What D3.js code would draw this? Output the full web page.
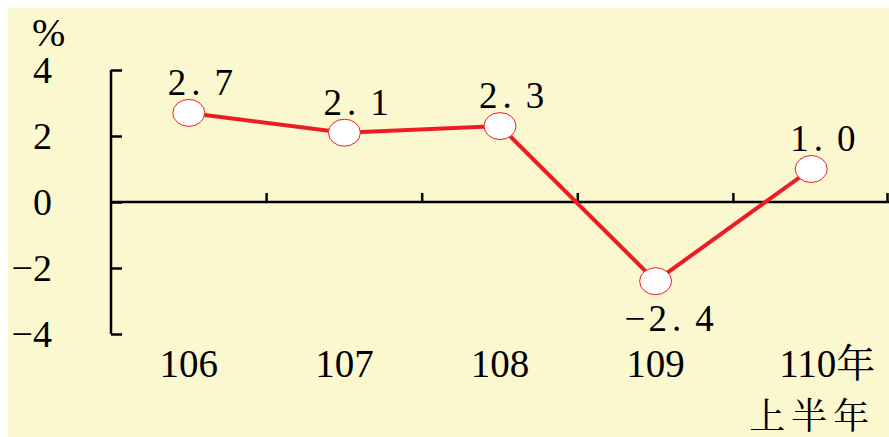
<!DOCTYPE html>
<html>
<head>
<meta charset="utf-8">
<script src="https://cdn.jsdelivr.net/npm/d3@7"></script>
</head>
<body style="margin:0">
<div id="chart"></div>
<script>
const years = ['106', '107', '108', '109', '110年\n上半年'];
const growth = [2.7, 2.1, 2.3, -2.4, 1.0];
const value_labels = ['2.7', '2.1', '2.3', '-2.4', '1.0'];
const y_ticks = [-4, -2, 0, 2, 4];

const width = 889;
const height = 437;

const serif = "'Liberation Serif', 'Noto Serif CJK TC', serif";

const svg = d3.select('#chart').append('svg')
	.attr('width', width)
	.attr('height', height)
	.style('display', 'block');

svg.append('rect')
	.attr('x', 8)
	.attr('y', 8)
	.attr('width', width - 8)
	.attr('height', height - 8)
	.style('fill', '#FBF8D0');

const x = d3.scaleBand()
	.domain(years)
	.range([111, 889]);

const y = d3.scaleLinear()
	.domain([-4, 4])
	.range([334, 70]);

const cx = d => x(d) + x.bandwidth() / 2;

// y axis, ticks pointing inwards, labels far left
const y_axis = svg.append('g')
	.attr('transform', 'translate(111,0)')
	.call(d3.axisLeft(y).tickValues(y_ticks).tickSize(-11).tickSizeOuter(0).tickPadding(59));

y_axis.select('.domain').remove();
y_axis.append('line')
	.attr('y1', y(4))
	.attr('y2', y(-4))
	.style('stroke', '#000')
	.style('stroke-width', 2.5);
y_axis.selectAll('.tick line')
	.style('stroke', '#000')
	.style('stroke-width', 2.5);
y_axis.selectAll('.tick text')
	.style('font-family', serif)
	.style('font-size', '38px')
	.attr('fill', '#000')
	.attr('dy', '0.34em');

// zero line with category boundary ticks
svg.append('line')
	.attr('x1', 111)
	.attr('x2', 889)
	.attr('y1', y(0))
	.attr('y2', y(0))
	.style('stroke', '#000')
	.style('stroke-width', 2.5);

svg.append('g')
	.selectAll('line')
	.data(years)
	.enter()
	.append('line')
	.attr('x1', d => Math.min(x(d) + x.bandwidth(), 887.5))
	.attr('x2', d => Math.min(x(d) + x.bandwidth(), 887.5))
	.attr('y1', y(0))
	.attr('y2', y(0) - 9)
	.style('stroke', '#000')
	.style('stroke-width', 2.5);

svg.append('text')
	.style('font-family', serif)
	.style('font-size', '40px')
	.attr('x', 32)
	.attr('y', 46)
	.text('%');

// category labels
const x_labels = svg.append('g')
	.selectAll('text')
	.data(years)
	.enter()
	.append('text')
	.style('font-family', serif)
	.style('font-size', '39px')
	.attr('text-anchor', d => d.includes('\n') ? 'end' : 'middle')
	.attr('x', d => d.includes('\n') ? cx(d) + 64 : cx(d))
	.attr('y', 377);

x_labels.each(function(d) {
	const lines = d.split('\n');
	const t = d3.select(this);
	lines.forEach((line, i) => {
		t.append('tspan')
			.attr('x', t.attr('x'))
			.attr('dy', i == 0 ? 0 : 52)
			.attr('letter-spacing', i == 0 ? 0 : 6)
			.style('font-size', i == 0 ? '39px' : '36px')
			.text(line);
	});
});

// line
const line = d3.line()
	.x((d, i) => cx(years[i]))
	.y(d => y(d));

svg.append('path')
	.datum(growth)
	.attr('d', line)
	.style('fill', 'none')
	.style('stroke', '#ED1C24')
	.style('stroke-width', 4);

svg.append('g')
	.selectAll('ellipse')
	.data(growth)
	.enter()
	.append('ellipse')
	.attr('cx', (d, i) => cx(years[i]))
	.attr('cy', d => y(d))
	.attr('rx', 16)
	.attr('ry', 13.5)
	.style('fill', '#fff')
	.style('stroke', '#ED1C24')
	.style('stroke-width', 1);

// value labels: "2." tight, wider gap before the last digit
const value_text = svg.append('g')
	.selectAll('text')
	.data(growth)
	.enter()
	.append('text')
	.style('font-family', serif)
	.style('font-size', '37px')
	.attr('x', (d, i) => cx(years[i]) - (d < 0 ? 31 : 21))
	.attr('y', d => d < 0 ? y(d) + 50 : y(d) - 18);

value_text.each(function(d, i) {
	const parts = value_labels[i].replace('-', '\u2212').split('.');
	const t = d3.select(this);
	t.append('tspan').attr('letter-spacing', 3).text(parts[0]);
	t.append('tspan').attr('dx', 2).text('.');
	t.append('tspan').attr('dx', 14).text(parts[1]);
});
</script>
</body>
</html>
